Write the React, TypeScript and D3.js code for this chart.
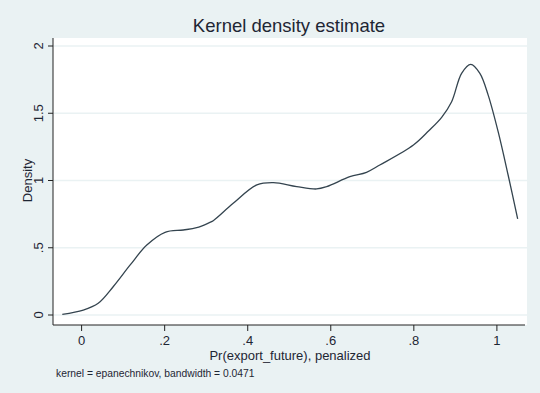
import * as d3 from 'd3'

const W = 540, H = 393
const PLOT = { left: 53, right: 527, top: 38, bottom: 325 }

// density curve
const gridX = [-0.0465, 0.004, 0.040, 0.076, 0.117, 0.157, 0.201, 0.245, 0.277, 0.309, 0.317, 0.365, 0.422, 0.462, 0.518, 0.566, 0.590, 0.646, 0.686, 0.718, 0.799, 0.836, 0.867, 0.891, 0.915, 0.937, 0.959, 0.979, 1.003, 1.027, 1.050]
const density = [0.005, 0.037, 0.087, 0.210, 0.372, 0.520, 0.615, 0.632, 0.649, 0.689, 0.701, 0.830, 0.967, 0.984, 0.954, 0.937, 0.954, 1.028, 1.061, 1.115, 1.264, 1.37, 1.47, 1.586, 1.797, 1.864, 1.797, 1.635, 1.363, 1.041, 0.714]

const xTicks = [0, 0.2, 0.4, 0.6, 0.8, 1]
const yTicks = [0, 0.5, 1, 1.5, 2]
const fmt = (v: number) => (v === 0 || v === 1 || v === 2 ? String(v) : String(v).replace(/^0/, ''))

const FONT = 'Liberation Sans, Arial, Helvetica, sans-serif'

export default function App() {
  const x = d3.scaleLinear().domain([0, 1]).range([81.6, 496.9])
  const y = d3.scaleLinear().domain([0, 2]).range([315, 46])

  const pts = gridX.map((v, i) => [v, density[i]] as [number, number])
  const line = d3.line<[number, number]>()
    .x(d => x(d[0]))
    .y(d => y(d[1]))
    .curve(d3.curveCatmullRom.alpha(0.5))

  return (
    <svg width={W} height={H} style={{ position: 'absolute', left: 0, top: 0 }} fontFamily={FONT}>
      <rect x={0} y={0} width={W} height={H} fill="#eaf2f3" />
      <rect x={PLOT.left} y={PLOT.top} width={PLOT.right - PLOT.left} height={PLOT.bottom - PLOT.top} fill="#ffffff" />

      {/* grid */}
      {yTicks.map(t => (
        <line key={'g' + t} x1={PLOT.left} x2={PLOT.right} y1={y(t)} y2={y(t)} stroke="#eaf2f3" strokeWidth={1.5} />
      ))}

      <path d={line(pts) ?? ''} fill="none" stroke="#34444f" strokeWidth={1.3} strokeLinejoin="round" />

      {/* axes */}
      <line x1={PLOT.left} x2={PLOT.left} y1={PLOT.top} y2={PLOT.bottom} stroke="#222" strokeWidth={1} />
      <line x1={PLOT.left} x2={PLOT.right - 2} y1={PLOT.bottom} y2={PLOT.bottom} stroke="#222" strokeWidth={1} />

      {yTicks.map(t => (
        <g key={'y' + t}>
          <line x1={PLOT.left - 5} x2={PLOT.left} y1={y(t)} y2={y(t)} stroke="#222" />
          <text transform={`translate(43,${y(t)}) rotate(-90)`} textAnchor="middle" fontSize={13} fill="#1e2633">{fmt(t)}</text>
        </g>
      ))}
      {xTicks.map(t => (
        <g key={'x' + t}>
          <line x1={x(t)} x2={x(t)} y1={PLOT.bottom} y2={PLOT.bottom + 6} stroke="#222" />
          <text x={x(t)} y={345} textAnchor="middle" fontSize={13} fill="#1e2633">{fmt(t)}</text>
        </g>
      ))}

      <text x={289} y={32} textAnchor="middle" fontSize={18.5} fill="#1e2633">Kernel density estimate</text>
      <text transform={`translate(32,${y(1)}) rotate(-90)`} textAnchor="middle" fontSize={13} fill="#1e2633">Density</text>
      <text x={290} y={360} textAnchor="middle" fontSize={13} fill="#1e2633">Pr(export_future), penalized</text>
      <text x={56} y={377} fontSize={10.3} fill="#1e2633">kernel = epanechnikov, bandwidth = 0.0471</text>
    </svg>
  )
}
